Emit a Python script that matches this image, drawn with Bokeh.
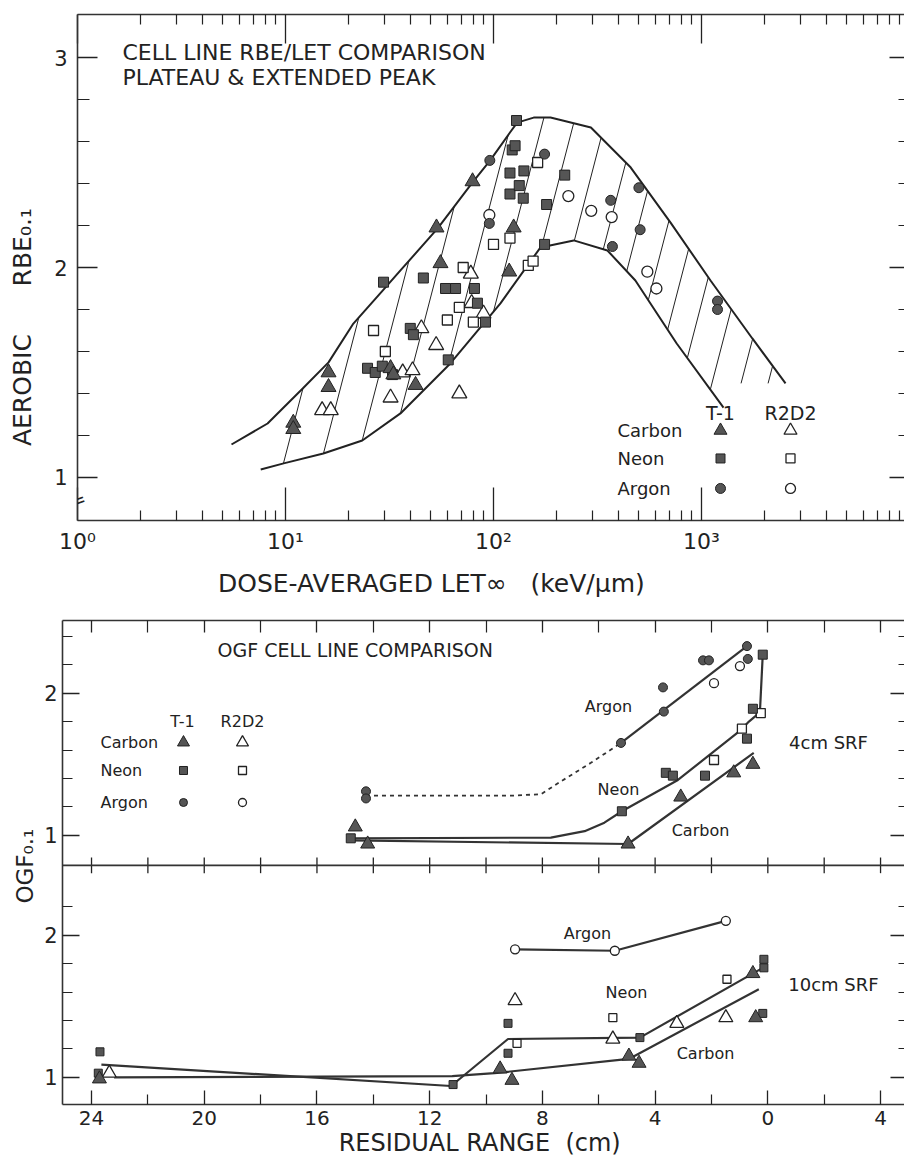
import numpy as np
from bokeh.plotting import figure
from bokeh.models import Range1d, LinearAxis, LogAxis, FixedTicker, Label, Span
from bokeh.embed import file_html
from bokeh.resources import INLINE

# ---------------- top panel data: LET (keV/um) vs aerobic RBE0.1 ----------------
carbon_t1_let = [10.9, 10.9, 16.1, 16.1, 32, 33, 42.2, 55.6, 53.2, 79.3, 125, 119]
carbon_t1_rbe = [1.26, 1.23, 1.50, 1.43, 1.52, 1.49, 1.44, 2.02, 2.19, 2.41, 2.19, 1.98]
carbon_r2_let = [15, 16.5, 32, 36.6, 40.8, 45, 53, 68.5, 77.8, 78.5, 89.5]
carbon_r2_rbe = [1.32, 1.32, 1.38, 1.50, 1.51, 1.71, 1.63, 1.40, 1.97, 1.83, 1.78]
neon_t1_let = [24.8, 27, 29.2, 29.6, 32.7, 39.8, 41.2, 46, 58.8, 60.6, 65.7, 81, 83.7, 91.5,
               120, 120, 123, 127, 129, 133, 139, 140, 176, 180, 220]
neon_t1_rbe = [1.52, 1.50, 1.53, 1.93, 1.49, 1.71, 1.68, 1.95, 1.90, 1.56, 1.90, 1.90, 1.83, 1.74,
               2.45, 2.35, 2.56, 2.58, 2.70, 2.39, 2.33, 2.46, 2.11, 2.30, 2.44]
neon_r2_let = [26.5, 30.2, 60, 68.5, 71.5, 80, 100, 120, 147, 155, 163]
neon_r2_rbe = [1.70, 1.60, 1.75, 1.81, 2.00, 1.74, 2.11, 2.14, 2.01, 2.03, 2.50]
argon_t1_let = [96, 95.5, 176, 366, 500, 507, 373, 1194, 1194]
argon_t1_rbe = [2.51, 2.21, 2.54, 2.32, 2.38, 2.18, 2.10, 1.84, 1.80]
argon_r2_let = [95.5, 229, 295, 370, 549, 607]
argon_r2_rbe = [2.25, 2.34, 2.27, 2.24, 1.98, 1.90]

upper_let = [5.5, 8.2, 12.1, 16.1, 21.2, 29.6, 35.7, 53.9, 79.3, 96.4, 120, 130, 156, 188, 294, 457,
             710, 1105, 1756, 2535]
upper_rbe = [1.157, 1.257, 1.424, 1.548, 1.733, 1.895, 1.986, 2.186, 2.405, 2.510, 2.643, 2.690, 2.714,
             2.714, 2.667, 2.476, 2.214, 1.938, 1.662, 1.448]
lower_let = [7.6, 9.8, 15.2, 23.4, 35.7, 62, 108, 168, 243, 353, 481, 760, 1276]
lower_rbe = [1.038, 1.067, 1.114, 1.176, 1.305, 1.543, 1.829, 2.095, 2.129, 2.081, 1.938, 1.638, 1.333]
hatch_offsets = [0.71, 0.89, 1.06, 1.21, 1.38, 1.53, 1.68, 1.83, 1.98, 2.12, 2.26, 2.39, 2.52, 2.67, 2.81, 2.94]
hatch_slope = 0.2625

let_ticks = [1, 10, 100, 1000]
let_minor = [2, 3, 4, 5, 6, 7, 8, 9, 20, 30, 40, 50, 60, 70, 80, 90,
             200, 300, 400, 500, 600, 700, 800, 900, 2000, 3000, 4000, 5000, 6000, 7000, 8000, 9000]
let_labels = {1: "10\u2070", 10: "10\u00b9", 100: "10\u00b2", 1000: "10\u00b3"}
rbe_ticks = [1, 2, 3]
rbe_minor = [1.2, 1.4, 1.6, 1.8, 2.2, 2.4, 2.6, 2.8]

# ---------------- bottom panels: residual range (cm) vs OGF0.1 ----------------
# 4 cm SRF
c4_t1_rr = [14.64, 14.2, 4.96, 3.09, 1.21, 0.53]
c4_t1_ogf = [1.06, 0.94, 0.94, 1.27, 1.44, 1.50]
n4_t1_rr = [14.8, 5.18, 3.62, 3.37, 2.23, 0.74, 0.53, 0.18]
n4_t1_ogf = [0.98, 1.17, 1.44, 1.42, 1.42, 1.68, 1.89, 2.27]
n4_r2_rr = [1.91, 0.92, 0.25]
n4_r2_ogf = [1.53, 1.75, 1.86]
a4_t1_rr = [14.26, 14.26, 5.21, 3.69, 3.72, 2.30, 2.09, 0.74, 0.71]
a4_t1_ogf = [1.31, 1.26, 1.65, 1.87, 2.04, 2.23, 2.23, 2.33, 2.24]
a4_r2_rr = [1.91, 0.99]
a4_r2_ogf = [2.07, 2.19]
a4_dash_rr = [14.26, 9.0, 8.05, 7.34, 6.28, 5.21]
a4_dash_ogf = [1.28, 1.28, 1.29, 1.38, 1.51, 1.65]
a4_fit_rr = [5.21, 0.74]
a4_fit_ogf = [1.65, 2.33]
n4_fit_rr = [14.8, 7.7, 6.5, 5.8, 5.18, 3.19, 0.96, 0.67, 0.43, 0.28, 0.18]
n4_fit_ogf = [0.98, 0.985, 1.03, 1.09, 1.17, 1.39, 1.74, 1.80, 1.84, 1.87, 2.27]
c4_fit_rr = [14.8, 4.96, 0.50]
c4_fit_ogf = [0.965, 0.94, 1.58]
# 10 cm SRF
c10_t1_rr = [23.72, 9.5, 9.08, 4.93, 4.57, 0.53, 0.43]
c10_t1_ogf = [0.99, 1.06, 0.98, 1.15, 1.10, 1.73, 1.42]
c10_r2_rr = [23.37, 8.97, 5.5, 3.23, 1.49]
c10_r2_ogf = [1.03, 1.54, 1.27, 1.38, 1.42]
n10_t1_rr = [23.7, 23.76, 11.17, 9.22, 9.22, 4.54, 0.18, 0.14, 0.14]
n10_t1_ogf = [1.18, 1.03, 0.95, 1.38, 1.17, 1.28, 1.45, 1.83, 1.77]
n10_r2_rr = [8.9, 5.5, 1.45]
n10_r2_ogf = [1.24, 1.42, 1.69]
a10_r2_rr = [8.97, 5.43, 1.49]
a10_r2_ogf = [1.90, 1.89, 2.10]
n10_fit_rr = [23.65, 11.24, 9.22, 4.54, 0.18]
n10_fit_ogf = [1.09, 0.94, 1.27, 1.28, 1.77]
c10_fit_rr = [23.2, 11.2, 9.7, 4.93, 0.32]
c10_fit_ogf = [1.00, 1.01, 1.03, 1.13, 1.62]

rr_ticks = [24, 20, 16, 12, 8, 4, 0, -4]
rr_minor = [22, 18, 14, 10, 6, 2, -2]
rr_labels = {-4: "4"}
ogf_ticks = [1, 2]
ogf_minor_low = [1.2, 1.4, 1.6, 1.8, 2.2]
ogf_minor_up = [1.2, 1.4, 1.6, 1.8, 2.2, 2.4]

# ---------------- styling ----------------
FONT = "DejaVu Sans"
INK = "#222222"
FILL = "#555555"
PANEL_OFFSET = 1.7      # vertical offset of the 4 cm panel inside the shared bottom figure
DIVIDER = 2.49
NB = "\u00a0"


def add_label(p, x, y, text, size, align="left", angle=0.0, baseline="middle"):
    p.add_layout(Label(x=x, y=y, text=text, text_font=FONT, text_font_size=f"{size}px",
                       text_align=align, text_baseline=baseline, angle=angle, text_color=INK))


def style_axis(ax, tick_in, minor_in, labels=True, size=20, standoff=8, line=True):
    ax.major_tick_in = tick_in
    ax.major_tick_out = 0
    ax.minor_tick_in = minor_in
    ax.minor_tick_out = 0
    ax.major_tick_line_color = INK
    ax.minor_tick_line_color = INK
    ax.major_tick_line_width = 1.3
    ax.minor_tick_line_width = 1.2
    ax.axis_line_color = "#333333" if line else None
    ax.axis_line_width = 1.6
    if labels:
        ax.major_label_text_font = FONT
        ax.major_label_text_font_size = f"{size}px"
        ax.major_label_text_color = INK
        ax.major_label_standoff = standoff
    else:
        ax.major_label_text_font_size = "1px"
        ax.major_label_text_color = None
        ax.major_label_standoff = 0


def axis_title(ax, text, size, standoff):
    ax.axis_label = text
    ax.axis_label_text_font = FONT
    ax.axis_label_text_font_size = f"{size}px"
    ax.axis_label_text_font_style = "normal"
    ax.axis_label_text_color = INK
    ax.axis_label_standoff = standoff


# ================= TOP FIGURE =================
p1 = figure(width=904, height=600, x_axis_type="log",
            x_range=Range1d(1, 10 ** (827 / 208)), y_range=Range1d(0.795, 3.205),
            output_backend="svg", toolbar_location=None,
            min_border_left=77, min_border_right=0, min_border_top=14, min_border_bottom=80,
            outline_line_color=None, background_fill_color="white", border_fill_color="white")
p1.grid.visible = False


def tx(px):
    return 10 ** ((px - 77) / 208)


def ty(py):
    return 1 + (477 - py) / 210


xb = p1.xaxis[0]
xb.ticker = FixedTicker(ticks=let_ticks, minor_ticks=let_minor)
xb.major_label_overrides = let_labels
style_axis(xb, 33, 10, size=22, standoff=8)
axis_title(xb, "DOSE-AVERAGED LET\u221e" + NB * 3 + "(keV/\u03bcm)" + NB * 15, 25, 12)
yl = p1.yaxis[0]
yl.ticker = FixedTicker(ticks=rbe_ticks, minor_ticks=rbe_minor)
style_axis(yl, 20, 12, size=21, standoff=10)
axis_title(yl, "AEROBIC" + NB * 6 + "RBE\u2080.\u2081" + NB * 15, 25, 14)
xa = LogAxis(ticker=FixedTicker(ticks=let_ticks, minor_ticks=let_minor))
style_axis(xa, 29, 10, labels=False)
p1.add_layout(xa, "above")
yr = LinearAxis(ticker=FixedTicker(ticks=rbe_ticks, minor_ticks=rbe_minor))
style_axis(yr, 15, 6, labels=False, line=False)
p1.add_layout(yr, "right")

# envelope curves
p1.line(upper_let, upper_rbe, line_color=INK, line_width=2)
p1.line(lower_let, lower_rbe, line_color=INK, line_width=2)

# hatching between the curves
ul = np.log10(upper_let)
ur = np.array(upper_rbe)
ll = np.log10(lower_let)
lr = np.array(lower_rbe)
rs = np.linspace(0.9, 2.9, 4000)
hx0, hy0, hx1, hy1 = [], [], [], []
for c in hatch_offsets:
    lg = c + hatch_slope * rs
    hi = np.interp(lg, ul, ur, left=-1, right=-1)
    lo = np.interp(lg, ll, lr, left=lr[0], right=ur[-1])
    m = (rs >= lo) & (rs <= hi)
    if m.any():
        r0, r1 = rs[m].min(), rs[m].max()
        hx0.append(10 ** (c + hatch_slope * r0))
        hy0.append(r0)
        hx1.append(10 ** (c + hatch_slope * r1))
        hy1.append(r1)
p1.segment(hx0, hy0, hx1, hy1, line_color=INK, line_width=1)

# data points
kw_f = dict(fill_color=FILL, line_color="#222222", line_width=1)
kw_o = dict(fill_color="white", line_color="#222222", line_width=1.3)
p1.scatter(carbon_r2_let, carbon_r2_rbe, marker="triangle", size=15, **kw_o)
p1.scatter(neon_r2_let, neon_r2_rbe, marker="square", size=10, **kw_o)
p1.scatter(argon_r2_let, argon_r2_rbe, marker="circle", size=11, **kw_o)
p1.scatter(neon_t1_let, neon_t1_rbe, marker="square", size=10, **kw_f)
p1.scatter(argon_t1_let, argon_t1_rbe, marker="circle", size=10, **kw_f)
p1.scatter(carbon_t1_let, carbon_t1_rbe, marker="triangle", size=15, **kw_f)

# legend
add_label(p1, tx(720), ty(413), "T-1", 19, align="center")
add_label(p1, tx(790), ty(413), "R2D2", 19, align="center")
for name, py, mk, sz in [("Carbon", 430, "triangle", 13), ("Neon", 458, "square", 9), ("Argon", 488, "circle", 10)]:
    add_label(p1, tx(617), ty(py), name, 18)
    p1.scatter([tx(720)], [ty(py)], marker=mk, size=sz, **kw_f)
    p1.scatter([tx(790)], [ty(py)], marker=mk, size=sz, **kw_o)

# titles
add_label(p1, tx(122), ty(52), "CELL LINE RBE/LET COMPARISON", 22)
add_label(p1, tx(122), ty(77), "PLATEAU & EXTENDED PEAK", 22)
# axis break mark
add_label(p1, 1, ty(500), "=", 20, align="center", angle=0.35)

# ================= BOTTOM FIGURE =================
p2 = figure(width=904, height=563, x_range=Range1d(25.03, -4.85), y_range=Range1d(0.81, 4.21),
            output_backend="svg", toolbar_location=None,
            min_border_left=62, min_border_right=0, min_border_top=20, min_border_bottom=59,
            outline_line_color=None, background_fill_color="white", border_fill_color="white")
p2.grid.visible = False
OFF = PANEL_OFFSET


def bx(px):
    return 25.03 - (px - 62) / 28.18


def by(py):
    return 0.81 + (1104 - py) / 142.35


def up(vals):
    return [v + OFF for v in vals]


ymaj = ogf_ticks + [round(v + OFF, 6) for v in ogf_ticks]
ymin = ogf_minor_low + [round(v + OFF, 6) for v in ogf_minor_up]
ylabels = {round(v + OFF, 6): str(v) for v in ogf_ticks}

xb2 = p2.xaxis[0]
xb2.ticker = FixedTicker(ticks=rr_ticks, minor_ticks=rr_minor)
xb2.major_label_overrides = rr_labels
style_axis(xb2, 14, 10, size=20, standoff=6)
axis_title(xb2, "RESIDUAL RANGE" + NB * 2 + "(cm)" + NB, 24, 1)
yl2 = p2.yaxis[0]
yl2.ticker = FixedTicker(ticks=ymaj, minor_ticks=ymin)
yl2.major_label_overrides = ylabels
style_axis(yl2, 17, 10, size=21, standoff=5)
axis_title(yl2, "OGF\u2080.\u2081" + NB, 23, 3)
xa2 = LinearAxis(ticker=FixedTicker(ticks=rr_ticks, minor_ticks=rr_minor))
style_axis(xa2, 12, 12, labels=False)
p2.add_layout(xa2, "above")
yr2 = LinearAxis(ticker=FixedTicker(ticks=ymaj, minor_ticks=ymin))
style_axis(yr2, 14, 6, labels=False, line=False)
p2.add_layout(yr2, "right")

# divider between the two panels with its ticks
p2.add_layout(Span(location=DIVIDER, dimension="width", line_color="#333333", line_width=1.6))
dt = rr_ticks + rr_minor
p2.segment(dt, [DIVIDER - 0.055] * len(dt), dt, [DIVIDER + 0.055] * len(dt),
           line_color=INK, line_width=1.3)

LW = 2.2
LC = "#333333"
# 4 cm SRF (upper panel)
p2.line(a4_dash_rr, up(a4_dash_ogf), line_color=LC, line_width=1.8, line_dash="4 4")
p2.line(a4_fit_rr, up(a4_fit_ogf), line_color=LC, line_width=LW)
p2.line(n4_fit_rr, up(n4_fit_ogf), line_color=LC, line_width=LW)
p2.line(c4_fit_rr, up(c4_fit_ogf), line_color=LC, line_width=LW)
p2.scatter(n4_r2_rr, up(n4_r2_ogf), marker="square", size=9, **kw_o)
p2.scatter(a4_r2_rr, up(a4_r2_ogf), marker="circle", size=9, **kw_o)
p2.scatter(n4_t1_rr, up(n4_t1_ogf), marker="square", size=9, **kw_f)
p2.scatter(a4_t1_rr, up(a4_t1_ogf), marker="circle", size=9, **kw_f)
p2.scatter(c4_t1_rr, up(c4_t1_ogf), marker="triangle", size=14, **kw_f)

# 10 cm SRF (lower panel)
p2.line(a10_r2_rr, a10_r2_ogf, line_color=LC, line_width=LW)
p2.line(n10_fit_rr, n10_fit_ogf, line_color=LC, line_width=LW)
p2.line(c10_fit_rr, c10_fit_ogf, line_color=LC, line_width=LW)
p2.scatter(a10_r2_rr, a10_r2_ogf, marker="circle", size=9, **kw_o)
p2.scatter(n10_r2_rr, n10_r2_ogf, marker="square", size=8, **kw_o)
p2.scatter(c10_r2_rr, c10_r2_ogf, marker="triangle", size=14, **kw_o)
p2.scatter(n10_t1_rr, n10_t1_ogf, marker="square", size=8, **kw_f)
p2.scatter(c10_t1_rr, c10_t1_ogf, marker="triangle", size=14, **kw_f)

# texts
add_label(p2, bx(217), by(650), "OGF CELL LINE COMPARISON", 19)
add_label(p2, bx(608), by(706), "Argon", 16, align="center")
add_label(p2, bx(618), by(789), "Neon", 16, align="center")
add_label(p2, bx(700), by(830), "Carbon", 16, align="center")
add_label(p2, bx(828), by(742), "4cm SRF", 18, align="center")
add_label(p2, bx(587), by(933), "Argon", 16, align="center")
add_label(p2, bx(626), by(992), "Neon", 16, align="center")
add_label(p2, bx(705), by(1053), "Carbon", 16, align="center")
add_label(p2, bx(833), by(984), "10cm SRF", 18, align="center")
# legend
add_label(p2, bx(182), by(721), "T-1", 16, align="center")
add_label(p2, bx(242), by(721), "R2D2", 16, align="center")
for name, py, mk, sz in [("Carbon", 742, "triangle", 12), ("Neon", 770, "square", 8), ("Argon", 802, "circle", 8)]:
    add_label(p2, bx(100), by(py), name, 16)
    p2.scatter([bx(183)], [by(py)], marker=mk, size=sz, **kw_f)
    p2.scatter([bx(242)], [by(py)], marker=mk, size=sz, **kw_o)

# two independent roots stacked vertically (keeps each frame at its own left edge)
open("out.html", "w").write(file_html([p1, p2], INLINE))
